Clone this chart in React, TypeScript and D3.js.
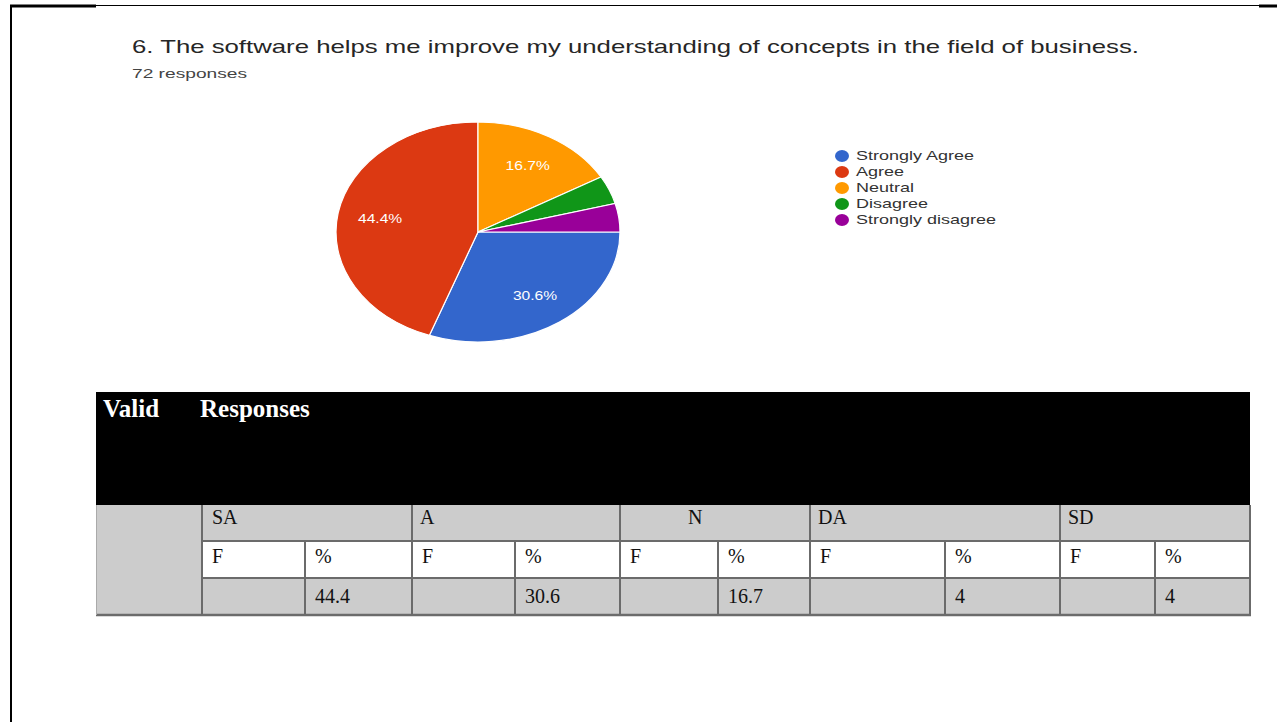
import React from "react";
import * as d3 from "d3";

const W = 1277;
const H = 722;

// ---- data ----
const categories = ["Strongly Agree", "Agree", "Neutral", "Disagree", "Strongly disagree"];
const counts = [22, 32, 12, 3, 3];
const sliceColors = ["#3366cc", "#dc3912", "#ff9900", "#109618", "#990099"];
const titleText = "6. The software helps me improve my understanding of concepts in the field of business.";
const responsesText = "72 responses";

const tableGroups = ["SA", "A", "N", "DA", "SD"];
const tableSub = ["F", "%"];
const tablePercents = ["44.4", "30.6", "16.7", "4", "4"];
const tableFreqs = ["", "", "", "", ""];

// ---- layout ----
const cx = 478, cy = 232, rx = 142, ry = 110;
const colEdges = [96, 202, 305, 412, 515, 620, 718, 810, 945, 1060, 1155, 1250];
const groupLabelX = [212, 420, 688, 818, 1068];
const rowY = { top: 392, r1: 505, r2: 541, r3: 578, bottom: 615 };
const sans = "'Liberation Sans', Arial, sans-serif";
const serif = "'Liberation Serif', 'Times New Roman', serif";

export default function App() {
  const total = d3.sum(counts);
  const pie = d3
    .pie<number>()
    .sort(null)
    .startAngle(Math.PI / 2)
    .endAngle(Math.PI / 2 + 2 * Math.PI)
    .value((d) => d);
  const arcs = pie(counts);
  const arc = d3.arc<d3.PieArcDatum<number>>().innerRadius(0).outerRadius(rx);
  const labelArc = d3
    .arc<d3.PieArcDatum<number>>()
    .innerRadius(rx * 0.7)
    .outerRadius(rx * 0.7);
  const sy = ry / rx;
  const legendY = d3.scalePoint<string>().domain(categories).range([156, 220]);

  const cellText = (x: number, y: number, t: string, key: string) => (
    <text key={key} x={x} y={y} fontFamily={serif} fontSize={20} fill="#111">
      {t}
    </text>
  );

  return (
    <svg
      width={W}
      height={H}
      viewBox={`0 0 ${W} ${H}`}
      style={{ position: "absolute", left: 0, top: 0, display: "block", background: "#fff" }}
    >
      <rect x={0} y={0} width={W} height={H} fill="#fff" />
      {/* page frame */}
      <line x1={11} y1={5} x2={11} y2={H} stroke="#000" strokeWidth={2} />
      <line x1={10} y1={6} x2={96} y2={6} stroke="#000" strokeWidth={3} />
      <line x1={96} y1={5.5} x2={1259} y2={5.5} stroke="#000" strokeWidth={1} />
      <line x1={1259} y1={6} x2={W} y2={6} stroke="#000" strokeWidth={3} />

      {/* title */}
      <text x={132} y={53} fontFamily={sans} fontSize={18.5} fill="#262626"
        textLength={1007} lengthAdjust="spacingAndGlyphs">
        {titleText}
      </text>
      <text x={132} y={78} fontFamily={sans} fontSize={12.5} fill="#444"
        textLength={115} lengthAdjust="spacingAndGlyphs">
        {responsesText}
      </text>

      {/* pie */}
      <g transform={`translate(${cx},${cy}) scale(1,${sy})`}>
        {arcs.map((a, i) => (
          <path key={i} d={arc(a) || ""} fill={sliceColors[i]} stroke="#fff" strokeWidth={1.2}
            vectorEffect="non-scaling-stroke" />
        ))}
      </g>
      {arcs.map((a, i) => {
        const pct = (a.data / total) * 100;
        if (pct < 10) return null;
        const [lx, ly] = labelArc.centroid(a);
        return (
          <g key={"l" + i} transform={`translate(${cx + lx},${cy + ly * sy}) scale(1.2,1)`}>
            <text x={0} y={0} textAnchor="middle" dominantBaseline="central"
              fontFamily={sans} fontSize={13} fill="#fff">
              {pct.toFixed(1) + "%"}
            </text>
          </g>
        );
      })}

      {/* legend */}
      {categories.map((c, i) => (
        <g key={c} transform={`translate(842,${legendY(c)})`}>
          <ellipse rx={7} ry={6} fill={sliceColors[i]} />
          <g transform="translate(14,0) scale(1.5,1)">
            <text x={0} y={0} dominantBaseline="central" fontFamily={sans} fontSize={12} fill="#333">
              {c}
            </text>
          </g>
        </g>
      ))}

      {/* table */}
      <rect x={colEdges[0]} y={rowY.top} width={colEdges[11] - colEdges[0]} height={rowY.r1 - rowY.top} fill="#000" />
      <text x={103} y={417} fontFamily={serif} fontSize={25} fontWeight="bold" fill="#fff">Valid</text>
      <text x={200} y={417} fontFamily={serif} fontSize={25} fontWeight="bold" fill="#fff">Responses</text>

      <rect x={colEdges[0]} y={rowY.r1} width={colEdges[11] - colEdges[0]} height={rowY.r2 - rowY.r1} fill="#cccccc" />
      <rect x={colEdges[0]} y={rowY.r2} width={colEdges[1] - colEdges[0]} height={rowY.r3 - rowY.r2} fill="#cccccc" />
      <rect x={colEdges[1]} y={rowY.r2} width={colEdges[11] - colEdges[1]} height={rowY.r3 - rowY.r2} fill="#fff" />
      <rect x={colEdges[0]} y={rowY.r3} width={colEdges[11] - colEdges[0]} height={rowY.bottom - rowY.r3} fill="#cccccc" />

      {/* grid lines */}
      <g stroke="#6b6b6b" strokeWidth={2}>
        <line x1={colEdges[1]} y1={rowY.r2} x2={colEdges[11]} y2={rowY.r2} />
        <line x1={colEdges[1]} y1={rowY.r3} x2={colEdges[11]} y2={rowY.r3} />
        <line x1={colEdges[0]} y1={rowY.bottom} x2={colEdges[11] + 1} y2={rowY.bottom} strokeWidth={2.5} />
        <line x1={colEdges[11]} y1={rowY.r1} x2={colEdges[11]} y2={rowY.bottom} />
        {[1, 3, 5, 7, 9].map((k) => (
          <line key={"g" + k} x1={colEdges[k]} y1={rowY.r1} x2={colEdges[k]} y2={rowY.bottom} />
        ))}
        {[2, 4, 6, 8, 10].map((k) => (
          <line key={"s" + k} x1={colEdges[k]} y1={rowY.r2} x2={colEdges[k]} y2={rowY.bottom} />
        ))}
      </g>
      <line x1={colEdges[0] + 0.5} y1={rowY.r1} x2={colEdges[0] + 0.5} y2={rowY.bottom} stroke="#aaa" strokeWidth={1} />

      {tableGroups.map((g, i) => cellText(groupLabelX[i], 524, g, "gl" + i))}
      {tableGroups.map((g, i) =>
        tableSub.map((s, j) => cellText(colEdges[1 + i * 2 + j] + 10, 563, s, `sub${i}-${j}`))
      )}
      {tableGroups.map((g, i) => cellText(colEdges[1 + i * 2] + 10, 603, tableFreqs[i], "f" + i))}
      {tableGroups.map((g, i) => cellText(colEdges[2 + i * 2] + 10, 603, tablePercents[i], "p" + i))}
    </svg>
  );
}
